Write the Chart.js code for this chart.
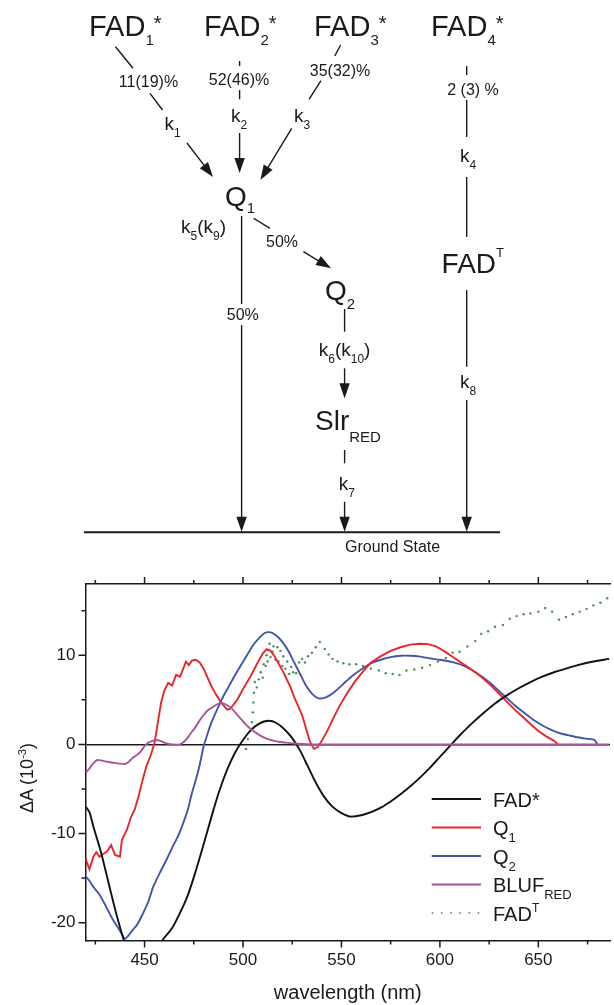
<!DOCTYPE html>
<html><head><meta charset="utf-8">
<script src="https://cdn.jsdelivr.net/npm/chart.js@4.4.1/dist/chart.umd.min.js"></script>
<style>
html,body{margin:0;padding:0;background:#fff;}
#wrap{position:relative;width:614px;height:1005px;overflow:hidden;}
#c{position:absolute;left:0;top:560px;}
#ov{position:absolute;left:0;top:0;pointer-events:none;}
</style></head><body>
<div id="wrap">
<canvas id="c" width="614" height="445"></canvas>
<svg id="ov" width="614" height="1005" xmlns="http://www.w3.org/2000/svg"></svg>
</div>
<script>
// ---------------- data ----------------
const xMajor = [450, 500, 550, 600, 650];
const xMinor = [425, 475, 525, 575, 625, 675];
const yMajor = [-20, -10, 0, 10];
const yMinor = [-15, -5, 5, 15];

const seriesNames = ['FAD*', 'Q', 'Q', 'BLUF', 'FAD'];
const seriesSubs  = ['', '1', '2', 'RED', ''];
const seriesSups  = ['', '', '', '', 'T'];

const fadStar = [[420,-7.0],[422,-7.6],[424,-9.2],[428,-12.2],[432,-15.8],[436,-19.3],[440,-22.3],[445,-24.5],[450,-25.2],[455,-23.8],[459,-22.0],[464,-20.6],[468,-18.9],[472,-16.9],[476,-14.2],[480,-11.2],[484,-8.1],[488,-5.2],[492,-2.8],[496,-0.9],[500,0.5],[504,1.6],[508,2.3],[513,2.65],[517,2.4],[521,1.7],[525,0.7],[529,-0.7],[533,-2.5],[537,-4.3],[541,-5.8],[545,-6.9],[550,-7.7],[555,-8.1],[560,-7.95],[565,-7.6],[570,-7.1],[575,-6.4],[580,-5.6],[585,-4.7],[590,-3.7],[595,-2.6],[600,-1.4],[605,-0.2],[610,1.0],[616,2.3],[622,3.5],[628,4.6],[634,5.5],[640,6.3],[646,7.0],[652,7.6],[658,8.1],[664,8.5],[670,8.9],[678,9.3],[686,9.6]];

const q1 = [[420,-12.8],[422,-14.0],[424,-12.6],[425.5,-12.1],[427,-12.6],[429,-12.3],[431,-12.0],[433,-11.3],[435,-12.4],[437.5,-12.6],[438.5,-10.7],[441,-9.6],[443,-8.2],[445,-7.3],[447,-5.8],[449,-4.0],[451,-2.4],[453,-1.3],[455,0.1],[457,2.8],[458.5,4.8],[460,6.0],[462,6.9],[464,6.6],[466,7.8],[468,7.6],[470,8.7],[471,9.3],[472.5,8.9],[474,9.4],[476,9.5],[478,9.2],[480,8.5],[482,7.5],[484,6.5],[486,5.7],[488,5.0],[490,4.4],[492,3.9],[493.5,4.0],[495,4.4],[497,5.0],[499,5.8],[501,6.6],[504,7.7],[507,9.0],[510,10.2],[512,10.7],[514,10.5],[516,9.9],[518,9.1],[520,8.3],[522,7.4],[524,6.5],[526,5.3],[528,4.3],[530,3.3],[532,1.8],[534,0.3],[536,-0.5],[538,-0.3],[540,0.4],[543,1.6],[546,3.0],[549,4.3],[553,5.8],[557,7.1],[561,8.2],[565,9.2],[570,9.9],[575,10.5],[580,10.9],[585,11.2],[590,11.3],[594,11.25],[598,11.0],[602,10.5],[606,9.9],[610,9.3],[614,8.7],[618,8.1],[622,7.4],[626,6.6],[630,5.7],[634,4.8],[638,3.9],[642,3.1],[646,2.3],[650,1.5],[654,0.9],[658,0.4],[660,0]];

const q2 = [[420,-14.8],[422,-15.3],[424,-16.0],[427,-16.8],[430,-18.0],[433,-19.3],[436,-20.4],[438,-21.1],[440,-21.8],[442,-21.4],[444,-20.8],[446,-20.3],[448,-19.5],[450,-18.6],[452,-17.6],[454,-16.2],[456,-15.2],[458,-14.3],[461,-13.0],[464,-11.6],[467,-10.3],[470,-8.6],[472,-7.3],[474,-5.5],[476,-4.0],[478,-2.3],[480,-0.2],[482,1.2],[484,2.5],[487,4.0],[490,5.4],[493,6.6],[496,7.8],[499,8.9],[502,10.0],[505,11.1],[508,11.9],[511,12.5],[513,12.6],[515,12.5],[518,12.0],[520,11.5],[523,10.5],[526,9.2],[529,7.9],[532,6.6],[535,5.7],[538,5.2],[541,5.2],[544,5.5],[547,6.0],[551,6.8],[555,7.6],[560,8.4],[565,9.1],[570,9.5],[575,9.8],[580,9.95],[585,9.95],[590,9.85],[595,9.65],[600,9.5],[605,9.3],[610,9.0],[614,8.6],[618,8.1],[622,7.5],[626,6.8],[630,6.0],[634,5.2],[638,4.4],[642,3.7],[646,3.0],[650,2.4],[654,1.9],[658,1.5],[662,1.2],[666,1.0],[670,0.8],[674,0.65],[678.5,0.5],[680,0]];

const blufRed = [[420,-3.2],[422,-2.7],[424,-2.1],[426,-1.75],[428,-1.8],[431,-1.95],[434,-2.05],[437,-2.15],[440,-2.2],[442,-1.95],[444,-1.5],[446,-1.2],[448,-0.8],[450,-0.2],[452,0.2],[454,0.4],[456,0.5],[458,0.4],[460,0.2],[462,0.05],[464,0],[468,0],[470,0.3],[472,0.8],[474,1.4],[476,2.0],[478,2.7],[480,3.3],[482,3.8],[484,4.1],[486,4.4],[488,4.6],[490,4.6],[492,4.4],[494,4.1],[496,3.6],[498,3.1],[500,2.6],[502,2.1],[504,1.7],[506,1.4],[508,1.1],[510,0.85],[512,0.65],[514,0.5],[516,0.4],[518,0.3],[522,0.2],[526,0.1],[530,0.05],[535,0],[686,0]];

const fadT = [[501.5,-0.5],[502.5,0.6],[503.5,1.5],[504.5,2.5],[505,3.6],[505.3,4.7],[505.5,5.8],[506,7.0],[507,6.4],[508,7.3],[509,8.1],[510,7.5],[510.5,9.0],[511.5,8.8],[512,10.0],[512.5,9.3],[513,10.6],[513.5,11.3],[514,9.8],[515,10.4],[515.5,11.0],[516.5,9.5],[517.5,10.9],[518,9.3],[519,10.5],[520,8.8],[520.5,9.9],[521.5,8.5],[522.5,9.3],[523.5,7.9],[524.5,8.7],[525.5,8.1],[527,8.0],[528.5,9.2],[530,9.6],[531.5,9.2],[533,9.9],[535,10.3],[537,10.9],[539,11.5],[541.5,10.7],[543.5,10.1],[545.5,9.6],[548,9.3],[551,9.1],[554,9.0],[557.5,9.0],[561,8.8],[565,8.5],[569,8.3],[572.5,8.0],[576,7.9],[579.5,7.8],[583,8.3],[587,8.4],[591,8.6],[595,8.9],[599,9.3],[603,9.7],[606.5,10.3],[610,10.4],[614,11.0],[618,11.6],[621,12.4],[624.5,12.7],[628,13.2],[632,13.4],[635.5,14.1],[639,14.4],[642.5,14.6],[646,14.7],[650,14.9],[653.5,15.3],[657,14.9],[660.5,14.0],[664,14.3],[667.5,14.6],[671,14.9],[674.5,15.2],[678,15.6],[681.5,15.9],[685,16.4]];

// ---------------- styling ----------------
const FONT = '"Liberation Sans", Arial, Helvetica, sans-serif';
const INK = '#1a1a1a';
const seriesColors = ['#111111', '#e8262d', '#4256a6', '#a6559d', '#4d8a59'];
const seriesData = [fadStar, q1, q2, blufRed, fadT];

const toXY = arr => arr.map(p => ({x: p[0], y: p[1]}));

const tickPlugin = {
  id: 'tickMarks',
  afterDraw(chart) {
    const {ctx, chartArea: a} = chart;
    const xs = chart.scales.x, ys = chart.scales.y;
    ctx.save();
    ctx.strokeStyle = INK; ctx.lineWidth = 1.5;
    ctx.beginPath();
    const seg = (x1, y1, x2, y2) => { ctx.moveTo(x1, y1); ctx.lineTo(x2, y2); };
    xMajor.forEach(v => { const p = xs.getPixelForValue(v); seg(p, a.bottom, p, a.bottom + 7); seg(p, a.top, p, a.top - 7); });
    xMinor.forEach(v => { const p = xs.getPixelForValue(v); seg(p, a.bottom, p, a.bottom + 4); seg(p, a.top, p, a.top - 4); });
    yMajor.forEach(v => { const p = ys.getPixelForValue(v); seg(a.left, p, a.left - 7, p); });
    yMinor.forEach(v => { const p = ys.getPixelForValue(v); seg(a.left, p, a.left - 4, p); });
    ctx.stroke();
    ctx.restore();
  }
};

const datasets = seriesData.map((d, i) => {
  const isDots = i === 4;
  return {
    label: seriesNames[i] + seriesSubs[i] + seriesSups[i],
    data: toXY(d),
    borderColor: seriesColors[i],
    backgroundColor: seriesColors[i],
    borderWidth: 1.9,
    pointRadius: isDots ? 1.2 : 0,
    pointBorderWidth: 0,
    showLine: !isDots,
    tension: (i === 2 || i === 3) ? 0.2 : 0,
    cubicInterpolationMode: i === 0 ? 'monotone' : 'default',
    order: [2, 3, 4, 1, 5][i]
  };
});

new Chart(document.getElementById('c'), {
  type: 'line',
  data: { datasets },
  options: {
    responsive: false,
    animation: false,
    layout: { padding: 0 },
    plugins: { legend: { display: false }, tooltip: { enabled: false } },
    scales: {
      x: {
        type: 'linear', position: 'bottom', min: 420, max: 686.4,
        afterBuildTicks: s => { s.ticks = xMajor.map(v => ({value: v})); },
        afterFit: s => { s.height = 64.5; },
        grid: { display: false, drawTicks: false },
        border: { display: true, color: INK, width: 1.5 },
        ticks: { color: INK, padding: 10, font: { family: FONT, size: 17 }, maxRotation: 0 },
        title: { display: true, text: 'wavelength (nm)', color: INK, font: { family: FONT, size: 20 }, padding: { top: 0, bottom: 0 } }
      },
      x2: {
        type: 'linear', position: 'top', min: 420, max: 686.4,
        afterFit: s => { s.height = 24; },
        grid: { display: false, drawTicks: false },
        border: { display: true, color: INK, width: 1.5 },
        ticks: { display: false }
      },
      y: {
        type: 'linear', position: 'left', min: -22, max: 18,
        afterBuildTicks: s => { s.ticks = yMajor.map(v => ({value: v})); },
        afterFit: s => { s.width = 85.5; },
        grid: { drawTicks: false, lineWidth: 1.5, color: c => (c.tick && c.tick.value === 0) ? INK : 'rgba(0,0,0,0)' },
        border: { display: true, color: INK, width: 1.5 },
        ticks: { color: INK, padding: 10, font: { family: FONT, size: 17 } }
      }
    }
  },
  plugins: [tickPlugin]
});

// ---------------- scheme + legend + y title (SVG text) ----------------
const NS = 'http://www.w3.org/2000/svg';
const svg = document.getElementById('ov');
function el(tag, attrs, parent) {
  const e = document.createElementNS(NS, tag);
  for (const k in attrs) e.setAttribute(k, attrs[k]);
  (parent || svg).appendChild(e);
  return e;
}
function txt(x, y, parts, anchor, extra) {
  const t = el('text', Object.assign({x, y, 'font-family': FONT, fill: INK, 'text-anchor': anchor || 'start'}, extra || {}));
  let prev = 0;
  parts.forEach(([s, size, off]) => {
    const sp = el('tspan', {'font-size': size, dy: off - prev}, t);
    sp.textContent = s;
    prev = off;
  });
  return t;
}
function line(x1, y1, x2, y2, w) {
  el('line', {x1, y1, x2, y2, stroke: INK, 'stroke-width': w || 1.4});
}
function arrow(x1, y1, x2, y2) {
  const dx = x2 - x1, dy = y2 - y1, L = Math.hypot(dx, dy), ux = dx / L, uy = dy / L;
  const hl = 15, hw = 5.2;
  const bx = x2 - ux * hl, by = y2 - uy * hl;
  line(x1, y1, bx + ux * 2, by + uy * 2);
  el('polygon', {points: `${x2},${y2} ${bx - uy * hw},${by + ux * hw} ${bx + uy * hw},${by - ux * hw}`, fill: INK});
}

// excited states
[[89, '1'], [204, '2'], [314, '3'], [431, '4']].forEach(([x, n]) =>
  txt(x, 36, [['FAD', 29, 0], [n, 15, 9], ['*', 20, -6]]));
// percentages
txt(148.5, 87, [['11(19)%', 16, 0]], 'middle');
txt(239, 85, [['52(46)%', 16, 0]], 'middle');
txt(340, 76, [['35(32)%', 16, 0]], 'middle');
txt(473, 95, [['2 (3) %', 16, 0]], 'middle');
// rate constants
txt(164.5, 130, [['k', 19, 0], ['1', 12, 7]]);
txt(231, 122, [['k', 19, 0], ['2', 12, 7]]);
txt(294, 122, [['k', 19, 0], ['3', 12, 7]]);
txt(460, 162, [['k', 19, 0], ['4', 12, 7]]);
txt(181, 233, [['k', 19, 0], ['5', 12, 7], ['(k', 19, 0], ['9', 12, 7], [')', 19, 0]]);
txt(344.6, 356, [['k', 19, 0], ['6', 12, 7], ['(k', 19, 0], ['10', 12, 7], [')', 19, 0]], 'middle');
txt(338.7, 490, [['k', 19, 0], ['7', 12, 7]]);
txt(460, 388, [['k', 19, 0], ['8', 12, 7]]);
// intermediates
txt(225, 206, [['Q', 28, 0], ['1', 15, 7]]);
txt(325, 300, [['Q', 28, 0], ['2', 15, 9]]);
txt(315, 430, [['Slr', 28, 0], ['RED', 15, 12]]);
txt(441.6, 273, [['FAD', 28, 0], ['T', 13, -16]]);
txt(282, 246.5, [['50%', 16, 0]], 'middle');
txt(242.8, 320, [['50%', 16, 0]], 'middle');
txt(345, 552, [['Ground State', 16, 0]]);

// scheme lines
line(115.5, 46.7, 133, 68.3); line(150, 93.3, 162.5, 110); arrow(187, 143, 213, 177);
line(239.6, 61, 239.6, 66); line(239.6, 90, 239.6, 99.3); arrow(239.6, 133, 239.6, 173);
line(340.6, 45, 334.8, 56); line(321, 80.7, 309, 99.3); arrow(291.7, 128.3, 260.4, 180);
line(466.7, 66, 466.7, 75); line(466.7, 100, 466.7, 137); line(466.7, 177, 466.7, 237);
line(241.6, 216, 241.6, 304); arrow(241.6, 325, 241.6, 531.7);
line(253.7, 218.3, 270, 228.3); arrow(303.4, 251.7, 331, 268.3);
line(344.6, 309, 344.6, 331.7); arrow(344.6, 368.3, 344.6, 398.3);
line(344.6, 450, 344.6, 463.3); arrow(344.6, 501.7, 344.6, 531.7);
line(466.7, 290, 466.7, 366.7); arrow(466.7, 400, 466.7, 531.7);
line(84, 532.3, 500, 532.3, 2);

// y-axis title
txt(0, 0, [['ΔA (10', 18, 0], ['-3', 11, -7], [')', 18, 0]], 'middle',
    {transform: 'translate(33,778) rotate(-90)'});

// legend built from the series definitions
seriesNames.forEach((name, i) => {
  const ry = 799 + i * 28.5;
  const attrs = {x1: 431.7, y1: ry, x2: 481, y2: ry, stroke: seriesColors[i], 'stroke-width': 2};
  if (i === 4) { attrs['stroke-dasharray'] = '1.6 7.6'; attrs['stroke-width'] = 1.6; }
  el('line', attrs);
  const parts = [[name, 20, 0]];
  if (seriesSubs[i]) parts.push([seriesSubs[i], 13, 7]);
  if (seriesSups[i]) parts.push([seriesSups[i], 12, -9]);
  txt(493, ry + 7.5, parts);
});
</script>
</body></html>
